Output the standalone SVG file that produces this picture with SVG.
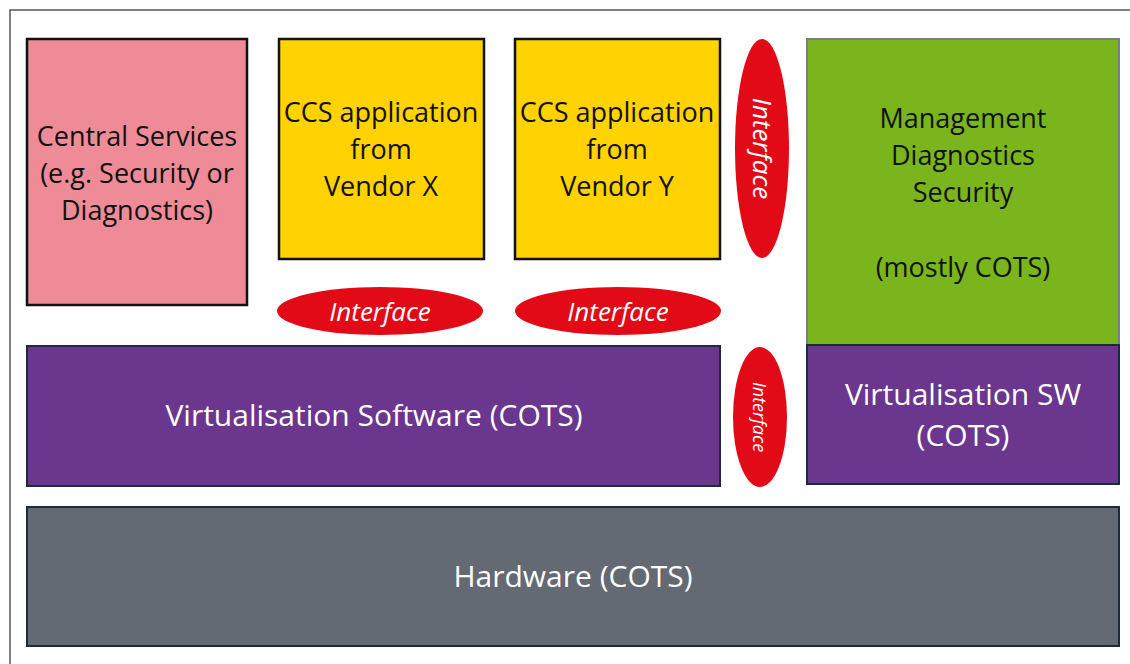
<svg xmlns="http://www.w3.org/2000/svg" width="1130" height="664" viewBox="0 0 1130 664">
<style>
.t{font-family:"Open Sans","Noto Sans","Liberation Sans",sans-serif;font-size:27px;text-anchor:middle}
.w{font-size:30px}
.dk{fill:#111}
.wt{fill:#fff}
.if{font-family:"Open Sans","Noto Sans","Liberation Sans",sans-serif;font-style:italic;fill:#fff;text-anchor:middle}
.red{fill:#e30a17}
</style>
<rect width="1130" height="664" fill="#fff"/>
<path d="M10,664 V10 H1130" fill="none" stroke="#555" stroke-width="1.5"/>
<g id="central">
<rect x="27" y="39" width="220" height="266" fill="#ee8b96" stroke="#111" stroke-width="2.5"/>
<text class="t dk" x="137" y="146">Central Services</text>
<text class="t dk" x="137" y="183">(e.g. Security or</text>
<text class="t dk" x="137" y="220">Diagnostics)</text>
</g>
<g id="ccsx">
<rect x="279" y="39" width="205" height="220" fill="#ffd200" stroke="#111" stroke-width="2.5"/>
<text class="t dk" x="381" y="122">CCS application</text>
<text class="t dk" x="381" y="159">from</text>
<text class="t dk" x="381" y="196">Vendor X</text>
</g>
<g id="ccsy">
<rect x="515" y="39" width="205" height="220" fill="#ffd200" stroke="#111" stroke-width="2.5"/>
<text class="t dk" x="617" y="122">CCS application</text>
<text class="t dk" x="617" y="159">from</text>
<text class="t dk" x="617" y="196">Vendor Y</text>
</g>
<g id="mgmt">
<rect x="807" y="39" width="312" height="306" fill="#7ab51d" stroke="#7a7f86" stroke-width="2"/>
<text class="t dk" x="963" y="128">Management</text>
<text class="t dk" x="963" y="165">Diagnostics</text>
<text class="t dk" x="963" y="202">Security</text>
<text class="t dk" x="963" y="277">(mostly COTS)</text>
</g>
<g id="virtsw">
<rect x="27" y="346" width="693" height="140" fill="#6b368e" stroke="#1c2b3c" stroke-width="2"/>
<text class="t w wt" x="374" y="426">Virtualisation Software (COTS)</text>
</g>
<g id="virtsw2">
<rect x="807" y="345" width="312" height="139" fill="#6b368e" stroke="#1c2b3c" stroke-width="2"/>
<text class="t w wt" x="963" y="405">Virtualisation SW</text>
<text class="t w wt" x="963" y="446">(COTS)</text>
</g>
<g id="hardware">
<rect x="27" y="507" width="1092" height="139" fill="#636a73" stroke="#1c2b3c" stroke-width="2"/>
<text class="t w wt" x="573" y="587">Hardware (COTS)</text>
</g>
<g id="if1">
<ellipse class="red" cx="380" cy="311" rx="103" ry="24"/>
<text class="if" x="380" y="321" font-size="26">Interface</text>
</g>
<g id="if2">
<ellipse class="red" cx="618" cy="311" rx="103" ry="24"/>
<text class="if" x="618" y="321" font-size="26">Interface</text>
</g>
<g id="if3">
<ellipse class="red" cx="762" cy="148.5" rx="27" ry="109.5"/>
<text class="if" transform="translate(762,148.5) rotate(90)" x="0" y="9" font-size="26">Interface</text>
</g>
<g id="if4">
<ellipse class="red" cx="760" cy="417" rx="27" ry="70"/>
<text class="if" transform="translate(760,417) rotate(90)" x="0" y="7" font-size="18">Interface</text>
</g>
<g id="connectors"></g>
</svg>
